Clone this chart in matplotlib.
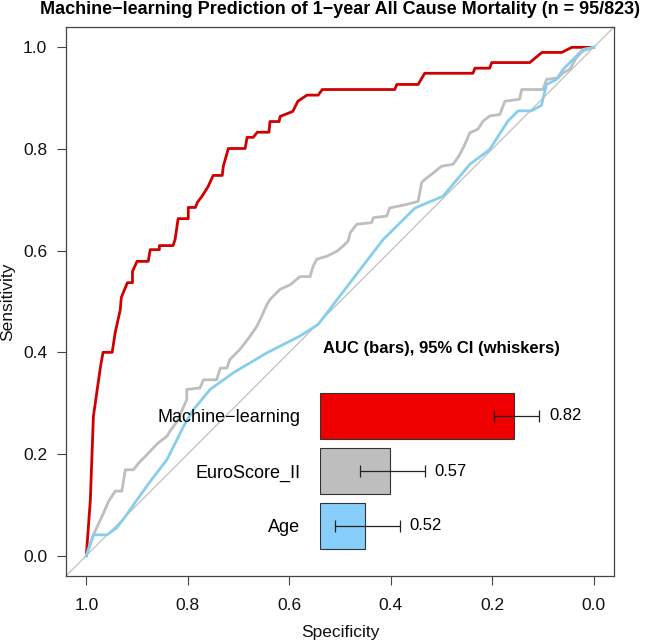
import matplotlib
matplotlib.use("Agg")
import matplotlib.pyplot as plt

plt.rcParams['font.family'] = ['Liberation Sans', 'DejaVu Sans']

# ROC curves (specificity, sensitivity)
ml_spec = [1.0, 0.992, 0.986, 0.972, 0.967, 0.949, 0.943, 0.933, 0.931, 0.919, 0.909, 0.909,
           0.900, 0.878, 0.874, 0.856, 0.856, 0.829, 0.825, 0.819, 0.799, 0.799, 0.785, 0.781,
           0.772, 0.760, 0.750, 0.732, 0.730, 0.720, 0.687, 0.683, 0.671, 0.663, 0.640, 0.638,
           0.620, 0.618, 0.593, 0.583, 0.565, 0.543, 0.535, 0.392, 0.388, 0.346, 0.333, 0.238,
           0.234, 0.205, 0.201, 0.126, 0.102, 0.063, 0.043, 0.0]
ml_sens = [0.0, 0.110, 0.274, 0.372, 0.400, 0.400, 0.439, 0.484, 0.508, 0.537, 0.537, 0.559,
           0.579, 0.579, 0.602, 0.602, 0.610, 0.610, 0.622, 0.663, 0.663, 0.685, 0.685, 0.695,
           0.707, 0.726, 0.748, 0.748, 0.766, 0.801, 0.801, 0.823, 0.823, 0.833, 0.833, 0.854,
           0.854, 0.864, 0.874, 0.894, 0.906, 0.906, 0.917, 0.917, 0.927, 0.927, 0.949, 0.949,
           0.959, 0.959, 0.970, 0.970, 0.990, 0.990, 1.0, 1.0]

euro_spec = [1.0, 0.986, 0.972, 0.966, 0.956, 0.943, 0.930, 0.923, 0.907, 0.897, 0.884, 0.868,
             0.858, 0.841, 0.835, 0.821, 0.802, 0.802, 0.776, 0.769, 0.743, 0.736, 0.723, 0.717,
             0.697, 0.677, 0.664, 0.657, 0.644, 0.638, 0.618, 0.598, 0.579, 0.559, 0.553, 0.546,
             0.526, 0.506, 0.494, 0.484, 0.480, 0.467, 0.438, 0.434, 0.408, 0.402, 0.369, 0.346,
             0.339, 0.333, 0.316, 0.300, 0.277, 0.264, 0.254, 0.244, 0.228, 0.218, 0.205, 0.185,
             0.175, 0.146, 0.142, 0.100, 0.093, 0.070, 0.060, 0.047, 0.034, 0.021, 0.0]
euro_sens = [0.0, 0.041, 0.071, 0.084, 0.107, 0.127, 0.127, 0.169, 0.169, 0.182, 0.195, 0.212,
             0.222, 0.235, 0.245, 0.264, 0.307, 0.327, 0.330, 0.346, 0.346, 0.369, 0.369, 0.386,
             0.406, 0.432, 0.451, 0.465, 0.494, 0.504, 0.524, 0.533, 0.549, 0.549, 0.569, 0.583,
             0.589, 0.599, 0.609, 0.619, 0.635, 0.652, 0.655, 0.665, 0.668, 0.684, 0.691, 0.697,
             0.734, 0.740, 0.753, 0.766, 0.770, 0.789, 0.809, 0.832, 0.839, 0.855, 0.865, 0.868,
             0.894, 0.898, 0.917, 0.917, 0.937, 0.940, 0.950, 0.957, 0.980, 0.993, 1.0]

age_spec = [1.0, 0.986, 0.959, 0.940, 0.923, 0.900, 0.874, 0.841, 0.808, 0.789, 0.756, 0.710,
            0.644, 0.579, 0.543, 0.415, 0.352, 0.297, 0.244, 0.205, 0.169, 0.149, 0.123, 0.103,
            0.093, 0.073, 0.060, 0.047, 0.021, 0.0]
age_sens = [0.0, 0.041, 0.041, 0.055, 0.077, 0.110, 0.146, 0.189, 0.255, 0.287, 0.327, 0.360,
            0.399, 0.432, 0.455, 0.622, 0.684, 0.707, 0.770, 0.799, 0.855, 0.875, 0.875, 0.886,
            0.927, 0.937, 0.957, 0.970, 0.996, 1.0]

# AUC summary
models = ['Machine\u2212learning', 'EuroScore_II', 'Age']
auc = [0.82, 0.57, 0.52]
ci_low = [0.78, 0.51, 0.46]
ci_high = [0.87, 0.64, 0.59]

line_colors = ['#d00000', '#bebebe', '#87ceeb']
bar_colors = ['#ee0000', '#bebebe', '#87cefa']

W, H = 649, 644
fig = plt.figure(figsize=(W / 100, H / 100), dpi=100)
ax = fig.add_axes([66 / W, 1 - 576 / H, 548 / W, 549 / H])

ax.axline((1, 0), (0, 1), color='#c0c0c0', lw=0.9, zorder=1)
ax.plot(ml_spec, ml_sens, color=line_colors[0], lw=2, zorder=3)
ax.plot(euro_spec, euro_sens, color=line_colors[1], lw=2, zorder=3)
ax.plot(age_spec, age_sens, color=line_colors[2], lw=2, zorder=4)

ax.set_xlim(1.04, -0.04)
ax.set_ylim(-0.04, 1.04)
ticks = [1.0, 0.8, 0.6, 0.4, 0.2, 0.0]
ax.set_xticks(ticks)
ax.set_yticks(ticks)
ax.set_xticklabels([f'{t:.1f}' for t in ticks])
ax.set_yticklabels([f'{t:.1f}' for t in ticks])
ax.tick_params(axis='both', length=6.5, width=0.8, color='#444444', labelsize=12.5,
               labelcolor='#111111')
ax.tick_params(axis='x', pad=9)
ax.tick_params(axis='y', pad=7)
for s in ax.spines.values():
    s.set_color('#444444')
    s.set_linewidth(0.9)

fig.text(340 / W, 1 - 633 / H, 'Specificity', ha='center', va='center', fontsize=12.5,
         color='#111111')
fig.text(8 / W, 1 - 302 / H, 'Sensitivity', ha='center', va='center', rotation=90,
         fontsize=12.5, color='#111111')
fig.text(340 / W, 1 - 10 / H,
         'Machine\u2212learning Prediction of 1\u2212year All Cause Mortality (n = 95/823)',
         ha='center', va='center', fontsize=13, fontweight='bold')

# inset AUC bar chart
base = 0.43
iax = fig.add_axes([320 / W, 1 - 553.5 / H, 284 / W, 165 / H])
iax.set_xlim(base, 1.0)
iax.set_ylim(2.5, -0.5)
ypos = [0, 1, 2]
iax.barh(ypos, [a - base for a in auc], left=base, height=0.82, color=bar_colors,
         edgecolor='#333333', linewidth=0.8)
iax.errorbar(auc, ypos, xerr=[[a - l for a, l in zip(auc, ci_low)],
                              [h - a for a, h in zip(auc, ci_high)]],
             fmt='none', ecolor='#222222', elinewidth=0.9, capsize=4, capthick=0.9)
for y, h, a in zip(ypos, ci_high, auc):
    iax.text(h + 0.02, y, f'{a:.2f}', va='center', ha='left', fontsize=12)
iax.set_yticks(ypos)
iax.set_yticklabels(models, fontsize=13)
iax.tick_params(axis='y', length=0, pad=14)
iax.set_xticks([])
for s in iax.spines.values():
    s.set_visible(False)
iax.patch.set_visible(False)

fig.text(323 / W, 1 - 349 / H, 'AUC (bars), 95% CI (whiskers)', ha='left', va='center',
         fontsize=12, fontweight='bold')

fig.savefig('out.png', dpi=100)
